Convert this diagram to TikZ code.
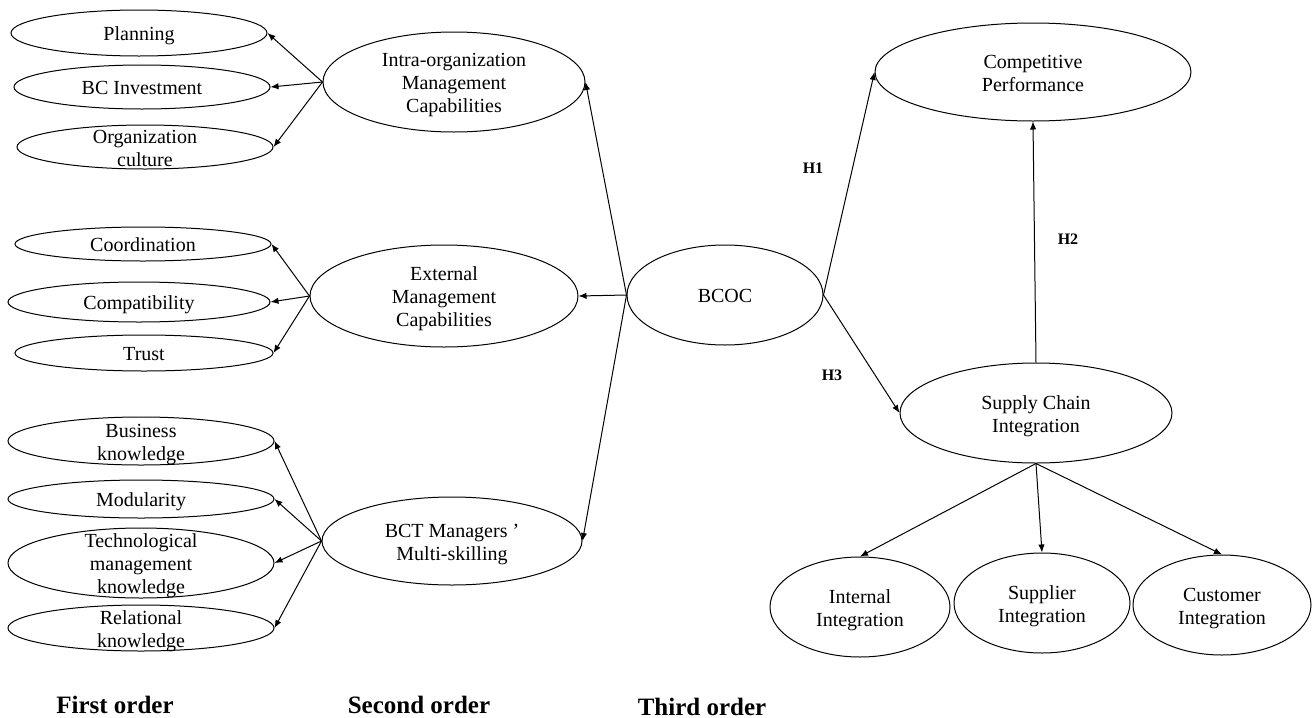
\documentclass[tikz,border=0pt]{standalone}
\usepackage{fontspec}
\setmainfont{Liberation Serif}
\usetikzlibrary{arrows.meta,shapes.geometric}
\newcommand\lns[1]{\smash{\raisebox{-4pt}{\begin{tabular}{@{}c@{}}#1\end{tabular}}}}

\begin{document}
\begin{tikzpicture}[x=0.5pt, y=-0.5pt, line width=0.5pt,
	every node/.style={font=\fontsize{10}{11.5}\selectfont},
	ov/.style 2 args={draw, ellipse, inner sep=0pt, minimum width=#1pt, minimum height=#2pt},
	hyp/.style={font=\fontsize{8}{9}\selectfont\bfseries},
	lvl/.style={font=\fontsize{12.5}{14}\selectfont\bfseries},
	>={Latex[length=4pt,width=3.2pt]}]
	\useasboundingbox (0,0) rectangle (1313,718);
	\node[ov={128}{23}] (plan) at (139,33) {\lns{Planning}};
	\node[ov={128}{22}] (inv) at (142,87) {\lns{BC Investment}};
	\node[ov={128}{22}] (cult) at (145,147) {\lns{Organization\\culture}};
	\node[ov={128}{17}] (coord) at (143,244) {\lns{Coordination}};
	\node[ov={131}{20}] (compat) at (139,302) {\lns{Compatibility}};
	\node[ov={129}{18}] (trust) at (144,353) {\lns{Trust}};
	\node[ov={133}{24}] (busk) at (141,441) {\lns{Business\\knowledge}};
	\node[ov={133}{19}] (modu) at (141,499) {\lns{Modularity}};
	\node[ov={133}{35}] (techk) at (141,563) {\lns{Technological\\management\\knowledge}};
	\node[ov={133}{23}] (relk) at (141,628) {\lns{Relational\\knowledge}};
	\node[ov={131}{50}] (intra) at (454,82) {\lns{Intra-organization\\Management\\Capabilities}};
	\node[ov={134}{51}] (ext) at (444,296) {\lns{External\\Management\\Capabilities}};
	\node[ov={130}{44}] (bct) at (452,541) {\lns{BCT Managers '\\Multi-skilling}};
	\node[ov={98}{50}] (bcoc) at (725,295) {\lns{BCOC}};
	\node[ov={158}{49}] (comp) at (1033,72) {\lns{Competitive\\Performance}};
	\node[ov={136}{50}] (sci) at (1036,413) {\lns{Supply Chain\\Integration}};
	\node[ov={90}{50}] (intn) at (860,607) {\lns{Internal\\Integration}};
	\node[ov={88}{50}] (supp) at (1042,603) {\lns{Supplier\\Integration}};
	\node[ov={89}{50}] (cust) at (1222,605) {\lns{Customer\\Integration}};
	\node[hyp] (h1) at (813,168) {H1};
	\node[hyp] (h2) at (1068,239) {H2};
	\node[hyp] (h3) at (832,375) {H3};
	\node[lvl] (first) at (115,705) {First order};
	\node[lvl] (second) at (419,705) {Second order};
	\node[lvl] (third) at (702,707) {Third order};
	\draw[->] (intra.west) -- (plan.east);
	\draw[->] (intra.west) -- (inv.east);
	\draw[->] (intra.west) -- (cult.east);
	\draw[->] (ext.west) -- (coord.east);
	\draw[->] (ext.west) -- (compat.east);
	\draw[->] (ext.west) -- (trust.east);
	\draw[->] (bct.west) -- (busk.east);
	\draw[->] (bct.west) -- (modu.east);
	\draw[->] (bct.west) -- (techk.east);
	\draw[->] (bct.west) -- (relk.east);
	\draw[->] (bcoc.west) -- (intra.east);
	\draw[->] (bcoc.west) -- (ext.east);
	\draw[->] (bcoc.west) -- (bct.east);
	\draw[->] (bcoc.east) -- (comp.west);
	\draw[->] (bcoc.east) -- (sci.west);
	\draw[->] (sci.north) -- (comp.south);
	\draw[->] (sci.south) -- (intn.north);
	\draw[->] (sci.south) -- (supp.north);
	\draw[->] (sci.south) -- (cust.north);
\end{tikzpicture}
\end{document}
